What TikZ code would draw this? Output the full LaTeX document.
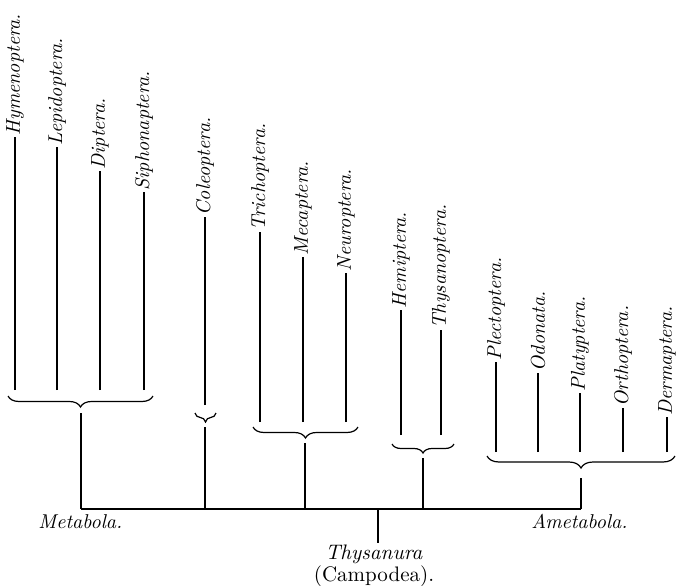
\documentclass[tikz,border=0pt]{standalone}
\usepackage{tikz}
\usetikzlibrary{decorations.pathreplacing}
\tikzset{every picture/.append style={font=\fontsize{10.5}{12.6}\selectfont}}
\tikzset{
  ordname/.style={rotate=90,anchor=west,inner sep=0.6pt,font=\itshape},
  stem/.style={line width=0.6pt},
  bracket/.style={decorate,decoration={brace,mirror,amplitude=#1},line width=0.6pt},
  bracket/.default=5pt
}

\begin{document}
\begin{tikzpicture}[x=0.5pt,y=-0.5pt]
  \useasboundingbox (0,0) rectangle (676,585);
  \def\base{509}
  % Metabola
  \foreach \n/\x/\t in {Hymenoptera/15/137,Lepidoptera/57/147,Diptera/100/171,Siphonaptera/144/192}{
    \node[ordname] (\n) at (\x,\t) {\n.};
    \coordinate (\n-foot) at (\x,390);
    \draw[stem] (\n-foot) -- (\n.west);
  }
  \coordinate (metL) at (8,396);
  \coordinate (metR) at (153,396);
  \draw[bracket=5.5pt] (metL) -- (metR);
  \coordinate (metTop) at (81,413);
  \coordinate (metJ) at (81,\base);
  \draw[stem] (metTop) -- (metJ);
  % Coleoptera
  \node[ordname] (Coleoptera) at (205,217) {Coleoptera.};
  \coordinate (Coleoptera-foot) at (205,405);
  \draw[stem] (Coleoptera-foot) -- (Coleoptera.west);
  \coordinate (colL) at (195,413);
  \coordinate (colR) at (216,413);
  \draw[bracket=4.5pt] (colL) -- (colR);
  \coordinate (colTop) at (205,427);
  \coordinate (colJ) at (205,\base);
  \draw[stem] (colTop) -- (colJ);
  % Trichoptera group
  \foreach \n/\x/\t in {Trichoptera/260/232,Mecaptera/303/257,Neuroptera/346/273}{
    \node[ordname] (\n) at (\x,\t) {\n.};
    \coordinate (\n-foot) at (\x,422);
    \draw[stem] (\n-foot) -- (\n.west);
  }
  \coordinate (triL) at (253,427);
  \coordinate (triR) at (358,427);
  \draw[bracket=5.5pt] (triL) -- (triR);
  \coordinate (triTop) at (305,443);
  \coordinate (triJ) at (305,\base);
  \draw[stem] (triTop) -- (triJ);
  % Hemiptera group
  \foreach \n/\x/\t in {Hemiptera/401/310,Thysanoptera/441/330}{
    \node[ordname] (\n) at (\x,\t) {\n.};
    \coordinate (\n-foot) at (\x,435);
    \draw[stem] (\n-foot) -- (\n.west);
  }
  \coordinate (hemL) at (392,444);
  \coordinate (hemR) at (454,444);
  \draw[bracket=4.5pt] (hemL) -- (hemR);
  \coordinate (hemTop) at (423,458);
  \coordinate (hemJ) at (423,\base);
  \draw[stem] (hemTop) -- (hemJ);
  % Ametabola
  \foreach \n/\x/\t in {Plectoptera/496/362,Odonata/538/373,Platyptera/580/393,Orthoptera/623/408,Dermaptera/667/417}{
    \node[ordname] (\n) at (\x,\t) {\n.};
    \coordinate (\n-foot) at (\x,452);
    \draw[stem] (\n-foot) -- (\n.west);
  }
  \coordinate (ameL) at (487,456);
  \coordinate (ameR) at (675,456);
  \draw[bracket=6pt] (ameL) -- (ameR);
  \coordinate (ameTop) at (581,478);
  \coordinate (ameJ) at (581,\base);
  \draw[stem] (ameTop) -- (ameJ);
  % common stem
  \draw[stem] (metJ) -- (ameJ);
  \node[anchor=north west,inner sep=1pt,font=\itshape] (metabola) at (36,512) {Metabola.};
  \node[anchor=north west,inner sep=1pt,font=\itshape] (ametabola) at (529,512) {Ametabola.};
  \coordinate (thyJ) at (378,\base);
  \node[anchor=north,align=center,inner sep=1pt] (thysanura) at (374,543) {\textit{Thysanura}\\[-2pt](Campodea).};
  \draw[stem] (thyJ) -- (thyJ |- thysanura.north);
\end{tikzpicture}
\end{document}
